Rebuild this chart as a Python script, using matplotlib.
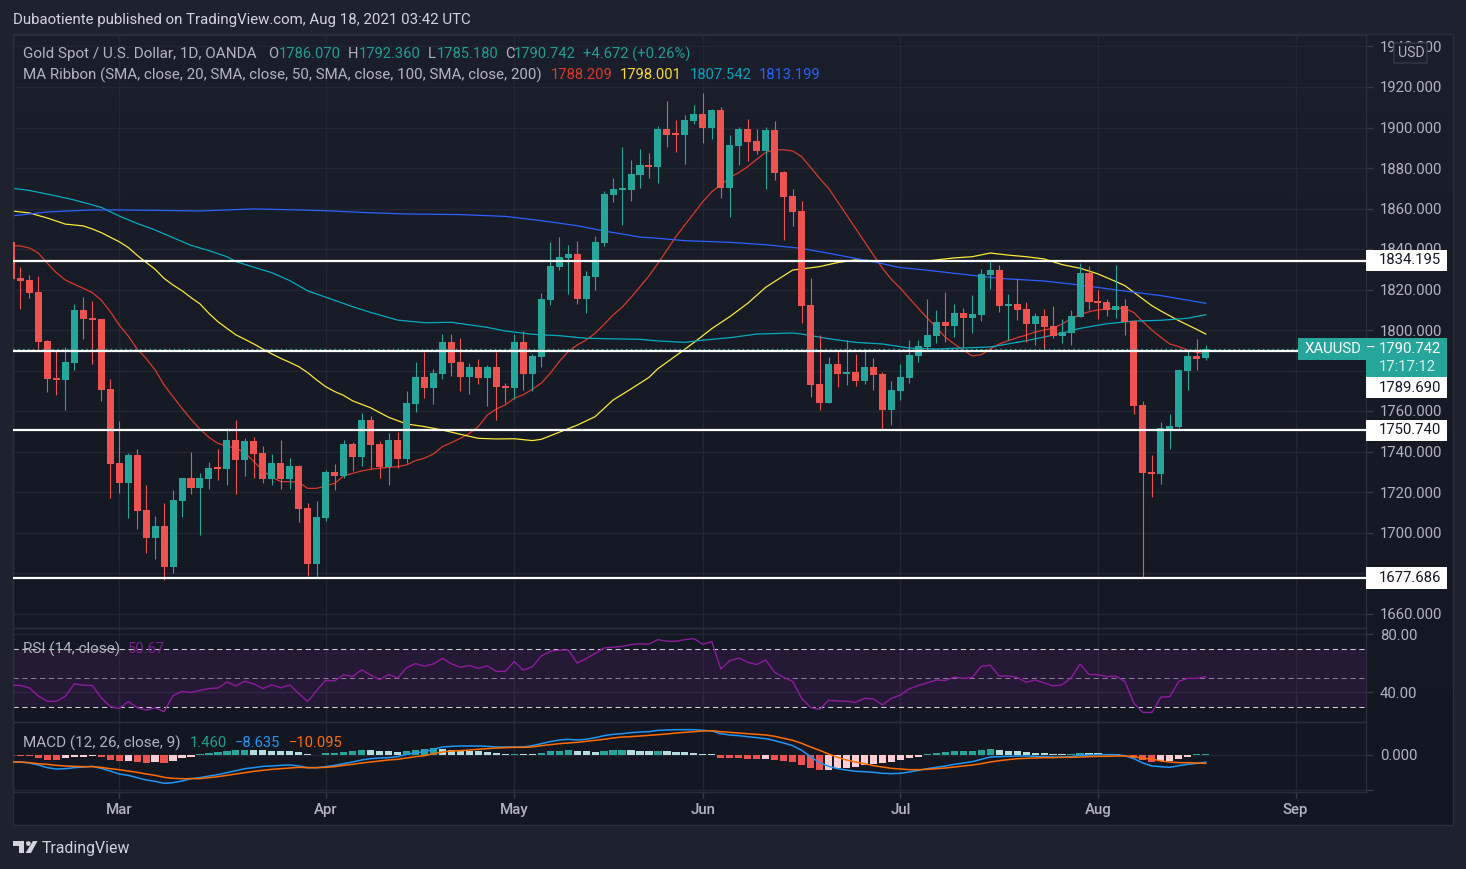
import numpy as np
import matplotlib
matplotlib.use("Agg")
import matplotlib.pyplot as plt
from matplotlib.patches import Rectangle, Polygon, FancyBboxPatch
from matplotlib.colors import LinearSegmentedColormap

W, H = 1466, 869
FONT = "Roboto"
plt.rcParams["font.family"] = [FONT, "DejaVu Sans"]

# ---------- data ----------
opens = [
 1843.5,1825.7,1824.7,1818.8,1794.6,1776.3,1775.3,1783.7,1809.9,1805.9,
 1805.5,1770.9,1734.3,1724.5,1738.3,1711.1,1697.3,1703.2,1683.0,1715.6,
 1726.9,1722.0,1726.4,1731.9,1731.4,1745.7,1735.8,1745.2,1739.3,1726.4,
 1734.3,1726.4,1732.9,1712.1,1684.5,1707.2,1729.9,1728.0,1743.7,1737.3,
 1755.6,1743.7,1732.4,1745.7,1736.3,1763.5,1776.8,1771.4,1778.3,1794.1,
 1784.2,1776.8,1781.7,1776.3,1781.7,1772.3,1771.4,1794.1,1778.3,1786.7,
 1814.8,1831.1,1835.6,1837.5,1815.3,1826.2,1843.0,1866.7,1869.1,1869.1,
 1876.5,1881.5,1880.5,1899.3,1896.8,1896.3,1903.2,1906.7,1899.8,1908.6,
 1870.1,1890.9,1899.3,1893.3,1888.4,1898.8,1878.0,1866.2,1858.8,1812.3,
 1773.3,1763.9,1783.2,1778.3,1779.3,1774.8,1781.7,1778.3,1760.5,1769.9,
 1776.3,1787.2,1791.6,1797.0,1804.0,1802.0,1808.4,1805.9,1807.4,1827.0,
 1829.6,1811.9,1812.8,1810.4,1803.0,1806.9,1802.0,1797.0,1798.5,1806.4,
 1828.1,1814.3,1813.8,1809.9,1811.9,1804.4,1763.0,1729.9,1728.9,1751.1,
 1752.1,1779.8,1787.2,1786.07]
highs = [
 1843.5,1831.1,1827.2,1826.7,1795.1,1789.6,1791.6,1812.9,1816.3,1814.3,
 1805.5,1775.8,1755.0,1739.3,1741.3,1723.5,1708.2,1714.6,1721.0,1726.9,
 1739.8,1729.4,1734.8,1741.3,1751.6,1755.6,1746.7,1747.2,1742.7,1738.8,
 1745.7,1736.8,1733.4,1714.6,1715.6,1730.9,1733.9,1745.7,1744.7,1759.0,
 1757.6,1745.2,1749.2,1749.7,1769.9,1784.2,1789.1,1780.8,1798.0,1798.0,
 1796.0,1783.7,1785.7,1782.7,1789.1,1773.8,1798.0,1799.5,1788.1,1818.3,
 1843.5,1846.0,1842.0,1844.0,1829.1,1846.4,1868.6,1875.1,1890.4,1884.0,
 1889.4,1887.4,1900.7,1913.1,1903.7,1906.2,1911.1,1917.0,1909.1,1910.1,
 1896.3,1900.2,1904.2,1899.3,1900.2,1903.2,1878.5,1869.6,1863.7,1825.7,
 1797.5,1786.7,1789.1,1795.1,1788.1,1790.6,1786.2,1779.3,1774.8,1783.2,
 1795.1,1795.1,1815.3,1809.9,1818.8,1812.8,1810.9,1817.3,1830.1,1834.1,
 1832.1,1817.8,1825.2,1813.8,1808.4,1810.4,1811.9,1805.4,1809.9,1833.1,
 1831.6,1819.8,1815.3,1832.1,1815.3,1804.4,1764.9,1738.3,1754.6,1758.5,
 1780.3,1789.6,1795.6,1792.36]
lows = [
 1825.2,1810.4,1815.8,1790.1,1769.4,1767.9,1760.5,1780.3,1795.6,1783.2,
 1765.0,1717.1,1719.5,1707.2,1701.8,1689.9,1686.9,1676.6,1680.0,1707.7,
 1719.0,1698.8,1721.5,1725.9,1723.5,1719.0,1727.9,1726.9,1724.5,1723.5,
 1721.5,1721.5,1705.2,1678.5,1678.0,1705.7,1721.0,1727.0,1730.4,1732.9,
 1731.4,1727.0,1723.5,1731.9,1734.4,1759.5,1766.4,1763.5,1775.8,1777.3,
 1769.9,1768.4,1773.3,1762.5,1755.6,1763.9,1765.9,1770.4,1769.9,1781.7,
 1812.3,1829.6,1817.8,1812.8,1808.4,1819.8,1841.5,1863.2,1851.9,1863.7,
 1870.1,1875.1,1872.6,1890.4,1887.9,1882.0,1901.7,1892.3,1894.3,1865.2,
 1855.8,1881.5,1883.5,1886.9,1869.6,1874.1,1844.4,1851.4,1803.5,1766.9,
 1760.5,1763.9,1771.9,1772.9,1772.3,1773.3,1770.4,1751.1,1753.1,1765.4,
 1773.8,1784.2,1790.6,1793.6,1794.1,1796.5,1791.1,1798.5,1804.4,1820.3,
 1808.9,1795.1,1805.0,1794.1,1792.6,1790.1,1796.0,1793.6,1792.6,1806.4,
 1809.9,1805.4,1806.9,1805.9,1797.5,1758.5,1678.0,1717.5,1724.0,1741.2,
 1751.6,1770.4,1780.3,1785.18]
closes = [
 1825.2,1824.2,1818.3,1794.1,1775.8,1775.3,1784.2,1809.9,1805.5,1805.0,
 1770.4,1733.9,1724.5,1738.3,1710.6,1697.3,1703.2,1683.0,1716.1,1726.9,
 1722.0,1726.9,1731.9,1731.4,1745.7,1735.8,1745.2,1738.8,1726.4,1734.3,
 1726.4,1732.9,1711.6,1684.5,1707.7,1729.9,1728.0,1743.7,1737.3,1755.6,
 1743.2,1732.4,1745.7,1736.3,1764.0,1776.8,1771.4,1778.8,1794.1,1783.7,
 1776.8,1781.7,1776.3,1781.7,1771.9,1771.4,1794.1,1778.3,1787.2,1815.3,
 1831.6,1836.1,1837.5,1815.3,1826.7,1843.5,1867.2,1869.6,1869.6,1877.0,
 1881.5,1880.5,1899.3,1896.3,1896.3,1903.7,1906.7,1899.8,1908.6,1870.1,
 1891.4,1899.3,1892.8,1888.4,1898.8,1877.5,1865.7,1858.3,1811.9,1772.9,
 1763.9,1783.2,1778.3,1779.3,1774.8,1781.7,1777.8,1760.5,1770.4,1776.8,
 1787.7,1792.1,1797.5,1804.0,1802.0,1808.4,1805.9,1807.9,1827.7,1829.6,
 1811.9,1812.8,1809.9,1803.0,1806.9,1801.5,1797.0,1799.0,1806.9,1828.1,
 1813.8,1813.3,1809.9,1811.9,1804.0,1762.5,1729.4,1728.9,1751.6,1752.6,
 1780.3,1787.2,1785.7,1790.742]

ma20 = [
 1841.5,1841.5,1840.5,1838.0,1833.0,1828.3,1824.7,1822.6,1820.6,1818.5,
 1814.8,1809.1,1802.5,1797.1,1790.6,1786.0,1780.3,1772.9,1767.1,1761.3,
 1755.9,1751.0,1747.0,1744.0,1742.7,1741.6,1739.4,1735.0,1730.6,1727.3,
 1725.1,1725.1,1724.8,1721.8,1721.8,1723.0,1724.3,1727.9,1729.2,1730.4,
 1731.2,1731.7,1732.2,1732.5,1733.4,1735.5,1736.7,1738.8,1742.4,1744.4,
 1746.5,1749.0,1752.3,1758.0,1761.0,1763.0,1766.3,1768.0,1770.7,1773.7,
 1778.6,1784.4,1789.3,1792.6,1795.0,1798.4,1802.8,1807.4,1811.2,1816.1,
 1821.4,1826.7,1832.9,1839.5,1846.1,1851.9,1857.6,1863.4,1868.3,1871.6,
 1875.4,1877.7,1880.7,1884.3,1887.7,1888.9,1889.0,1888.4,1885.6,1880.3,
 1874.9,1870.0,1863.4,1856.8,1850.2,1843.6,1837.0,1830.5,1825.0,1820.6,
 1815.6,1810.7,1805.8,1801.3,1796.4,1793.1,1790.1,1787.2,1787.8,1790.6,
 1793.1,1794.7,1796.2,1797.5,1799.0,1800.0,1800.8,1803.0,1805.4,1807.7,
 1809.0,1809.9,1810.4,1810.7,1810.7,1808.6,1804.1,1800.0,1796.4,1793.1,
 1791.8,1790.1,1789.0,1788.209]

ma50_bar = [0,2,4,6,8,9,10,12,13,14,15,16,17,18,19,20,21,22,23,24,25,26,27,28,29,30,31,32,33,34,35,36,37,38,40,42,44,46,48,50,52,54,56,58,59,61,63,65,67,69,71,72,74,76,78,80,82,84,86,87,90,92,94,98,100,102,105,107,109,111,113,115,117,119,121,123,124,125,127,128,130,132,133]
ma50 = [1858.8,1857.8,1855.3,1852.3,1851.4,1849.9,1848.1,1843.6,1840.8,1836.9,1833.4,1830.0,1825.5,1822.2,1819.4,1816.0,1812.9,1808.2,1804.1,1800.8,1797.6,1795.4,1793.1,1790.6,1788.2,1786.0,1784.0,1781.9,1778.9,1775.3,1772.0,1769.6,1767.7,1765.0,1761.6,1756.9,1753.6,1752.3,1750.6,1748.5,1746.5,1746.2,1746.3,1745.4,1746.0,1749.5,1753.0,1757.2,1765.4,1770.9,1776.6,1780.9,1787.3,1793.8,1800.7,1806.6,1813.2,1821.1,1826.8,1829.6,1831.3,1833.3,1834.6,1833.8,1833.8,1834.1,1835.6,1836.2,1838.0,1837.0,1836.2,1835.1,1832.3,1830.5,1827.7,1823.9,1821.9,1818.6,1812.0,1809.4,1804.6,1800.3,1798.001]

ma100_bar = [0,2,5,7,10,12,14,16,18,20,22,24,25,27,29,31,33,35,38,40,43,46,49,53,55,58,61,64,70,72,75,77,80,83,87,88,91,94,97,100,103,105,109,113,117,119,122,125,128,131,133]
ma100 = [1870.1,1868.9,1866.2,1864.2,1860.6,1856.3,1852.6,1849.4,1845.6,1841.8,1839.2,1836.2,1833.8,1831.0,1828.3,1824.4,1819.3,1816.2,1811.5,1808.7,1804.9,1803.6,1803.8,1801.3,1799.5,1797.9,1797.2,1795.9,1795.4,1794.6,1793.9,1795.0,1796.2,1798.0,1798.5,1798.0,1795.7,1793.9,1793.1,1791.1,1790.6,1791.0,1791.6,1794.7,1798.4,1800.8,1803.1,1804.4,1804.8,1805.8,1807.542]

ma200_bar = [0,4,9,12,21,27,32,35,40,44,50,55,59,63,66,70,72,75,80,84,88,91,96,99,101,105,110,115,119,123,128,133]
ma200 = [1856.3,1858.3,1859.3,1859.3,1858.8,1859.8,1859.3,1858.9,1857.9,1857.3,1857.0,1856.1,1854.0,1851.5,1848.9,1845.9,1845.3,1844.1,1843.3,1842.1,1840.3,1837.9,1833.7,1830.8,1830.0,1828.0,1825.5,1824.2,1822.2,1819.8,1817.0,1813.199]

rsi = [
 44.7,44.5,42.9,37.2,33.6,33.6,37.0,45.6,44.7,44.5,
 36.1,30.0,28.6,33.4,29.3,27.5,29.1,26.6,37.5,40.4,
 39.7,41.1,42.4,42.7,46.9,44.2,47.4,45.6,42.4,44.9,
 42.9,44.9,39.0,33.4,41.1,48.1,47.6,51.9,50.6,55.3,
 51.7,48.5,52.1,49.7,56.7,59.6,57.8,59.4,63.2,59.4,
 57.1,58.2,56.4,58.0,54.2,54.2,61.0,55.1,57.3,64.8,
 68.0,68.9,69.1,60.0,63.0,66.6,70.4,70.9,71.4,72.7,
 73.2,73.0,76.1,75.0,75.0,76.1,76.8,73.0,74.7,55.8,
 61.6,63.4,60.5,58.9,62.1,53.5,50.1,47.4,35.6,29.3,
 28.0,34.3,33.8,33.6,32.9,35.6,35.2,31.1,35.6,37.9,
 42.2,44.5,46.3,48.3,47.9,50.3,49.4,50.1,57.6,58.5,
 51.0,51.0,50.1,46.7,48.3,46.3,44.2,44.9,49.7,59.2,
 52.1,51.9,50.6,51.0,47.2,32.3,25.9,25.9,36.5,36.8,
 47.4,49.4,49.4,50.67]

macd_line = [
 -8.4,-8.4,-9.6,-12,-15.2,-16.8,-16.4,-15.2,-14.4,-13.6,
 -16,-19.2,-22.8,-24.4,-27.2,-30,-31.6,-34,-33.2,-31.2,
 -28.4,-27.2,-25.2,-23.6,-21.2,-18.8,-16.4,-15.2,-13.6,-13.2,
 -12.4,-12,-13.2,-15.2,-15.2,-14,-12.4,-10.4,-8.4,-6,
 -4.4,-3.6,-3.2,-2,0.8,2.8,4,6.8,9.6,10.4,
 10.8,10.8,10.8,10.4,9.6,9.6,9.6,9.6,11.2,13.6,
 16,18,18.8,18,18.8,20.8,23.2,24.8,25.6,26.8,
 27.6,28,29.6,30,30.4,30.4,30.4,29.6,28.8,25.6,
 24,23.2,22,20.8,19.6,17.2,14.4,11.2,5.6,-2,
 -9.2,-13.6,-16.4,-18,-19.6,-20,-20.8,-22,-22.4,-22,
 -20.4,-18.4,-16.4,-14.8,-13.2,-11.2,-9.6,-8,-5.2,-2.4,
 -2,-1.6,-1.2,-1.2,-1.6,-2,-2.4,-2.4,-2,-0.4,
 0,0.4,0.4,0.4,-0.8,-4.4,-9.6,-13.2,-14,-14.8,
 -12.8,-11.2,-10,-8.635]
macd_signal = [
 -8.4,-8.4,-9.2,-10.4,-11.2,-12.4,-13.2,-13.6,-14,-14,
 -14.8,-16.4,-17.6,-19.2,-20.8,-22.8,-24.4,-26.8,-28,-28.4,
 -28.4,-28.4,-27.2,-26,-24.4,-22.8,-21.2,-19.6,-18.4,-17.2,
 -16.4,-15.6,-14.8,-15.2,-15.2,-14.8,-14,-12.4,-11.2,-9.6,
 -8.4,-7.2,-6,-5.2,-3.6,-2,-0.8,1.6,3.6,4.8,
 5.2,6,6.8,7.6,8.4,8.8,9.2,9.2,9.6,11.2,
 12.4,13.6,14.4,15.2,16.4,17.6,18.8,20.4,21.6,22,
 22.8,23.6,24.4,25.2,26.4,27.2,28,28.8,29.2,28,
 27.2,26.4,25.6,24.8,24,22.4,20,17.6,14,9.6,
 5.6,1.2,-2.8,-6,-8.4,-10.4,-12.8,-14.4,-16,-16.8,
 -17.6,-17.6,-17.2,-16.4,-15.6,-14.4,-13.2,-12,-10.4,-8.4,
 -6.8,-5.6,-4.4,-4,-3.6,-3.2,-3.2,-2.8,-2.8,-2.4,
 -2,-1.6,-1.6,-1.2,-1.2,-2,-4,-4.8,-7.2,-8.4,
 -9.2,-9.2,-9.6,-10.095]
macd_hist = [
 -1,-1,-1,-3.6,-5.6,-6,-3.6,-2.4,-2,-1.2,
 -2.8,-6,-6.8,-6.6,-8.4,-9.2,-8.4,-9.2,-6.8,-3.6,
 -2.4,1.2,2,3.6,5.2,6,6.2,6,5.6,4.8,
 4.7,4.6,3.6,1.2,0.3,2.4,2.5,3.6,4.8,6,
 5.8,4.8,4.4,3.6,4.8,6,7.2,8,7.2,6.4,
 5.6,4.8,4.4,3.6,2.4,1,1.3,1.1,1,2.4,
 4.8,4.9,6,4.6,4.4,4.2,4.8,5.6,5.8,5.7,
 4.8,4.6,4.8,4.6,3.6,3.5,2.4,1.2,1.1,-3.6,
 -3.7,-3.8,-4.8,-4.9,-4.8,-6,-7.2,-8.4,-12,-15.6,
 -18,-17.9,-15.6,-15.5,-14.4,-12,-10.8,-9.6,-8.4,-6,
 -3.6,-2.4,1.2,2.4,3.6,4.8,4.9,5,6,7.2,
 6,4.8,4.7,3.6,2.4,2.3,1.2,1.1,1.3,2.4,
 2.3,2.2,1.2,1.1,-0.2,-3.6,-6,-8.4,-7.2,-7.1,
 -4.8,-2.4,0.8,1.46]

month_pos = [12, 35, 56, 77, 99, 121, 143]
month_labels = ["Mar", "Apr", "May", "Jun", "Jul", "Aug", "Sep"]
price_ticks = list(range(1660, 1941, 20))
level_lines = [1834.195, 1789.690, 1750.740, 1677.686]
last_price = 1790.742

# ---------- colours ----------
UP, DOWN = "#26a69a", "#ef5350"
GRID, EDGE = "#232733", "#2a2e39"
TXT = "#b2b5be"

# ---------- layout helpers ----------
def rect(l, t, r, b):
    return [l / W, 1 - b / H, (r - l) / W, (b - t) / H]

fig = plt.figure(figsize=(W / 100, H / 100), dpi=100, facecolor="#1e222d")

def ftext(x, y, s, color=TXT, size=10.4, ha="left", **kw):
    return fig.text(x / W, 1 - y / H, s, color=color, fontsize=size, ha=ha, va="center",
                    zorder=12, **kw)

def fbox(l, t, r, b, color, z=10, **kw):
    p = Rectangle((l / W, 1 - b / H), (r - l) / W, (b - t) / H, transform=fig.transFigure,
                  facecolor=color, zorder=z, linewidth=0, **kw)
    fig.add_artist(p)
    return p

# gradient background
bg = fig.add_axes(rect(13, 34, 1453, 825), zorder=-2)
cmap = LinearSegmentedColormap.from_list("tv", ["#1b1f2b", "#161a25", "#131722"])
bg.imshow(np.linspace(0, 1, 256)[:, None], cmap=cmap, aspect="auto")
bg.set_xticks([]); bg.set_yticks([])
for s in bg.spines.values():
    s.set_color(EDGE); s.set_linewidth(1)

PX = 8.98
X0 = 11.4
xlim = ((13 - X0) / PX, (1366 - X0) / PX)

ax = fig.add_axes(rect(13, 35, 1366, 628))
ar = fig.add_axes(rect(13, 628, 1366, 722))
am = fig.add_axes(rect(13, 722, 1366, 792))

for a in (ax, ar, am):
    a.patch.set_alpha(0)
    a.set_xlim(xlim)
    a.set_axisbelow(True)
    a.set_xticks(month_pos)
    a.grid(True, color=GRID, lw=1)
    a.yaxis.tick_right()
    a.tick_params(axis="y", colors=TXT, length=5, width=1, color="#363a45", pad=5,
                  labelsize=10.7, labelcolor=TXT)
    a.tick_params(axis="x", length=0, labelbottom=False)
    for s in a.spines.values():
        s.set_color(EDGE); s.set_linewidth(1)

# ---------- main pane ----------
ax.set_ylim(1920 - (628 - 87) / 2.025, 1920 + (87 - 35) / 2.025)
ax.set_yticks(price_ticks)
ax.set_yticklabels([f"{p:.3f}" for p in price_ticks])

xs = np.arange(len(closes))
o, h, l, c = map(np.array, (opens, highs, lows, closes))
cols = [UP if ci >= oi else DOWN for oi, ci in zip(o, c)]

ax.plot(xs, ma20, color="#d9392c", lw=0.9, zorder=2)
ax.plot(ma50_bar, ma50, color="#fbe83a", lw=0.9, zorder=2)
ax.plot(ma100_bar, ma100, color="#00acc1", lw=0.9, zorder=2)
ax.plot(ma200_bar, ma200, color="#2962ff", lw=0.9, zorder=2)

ax.vlines(xs, l, h, colors=cols, lw=0.8, zorder=3)
ax.bar(xs, np.maximum(np.abs(c - o), 1.0), bottom=np.minimum(o, c), width=0.78, color=cols,
       linewidth=0, zorder=3.1)

ax.axhline(last_price, color=UP, lw=1, ls=(0, (1, 2.5)), zorder=3.5)
for lv in level_lines:
    ax.axhline(lv, color="white", lw=1.6, zorder=4)

# ---------- RSI pane ----------
ar.set_ylim(80 - (722 - 634) / 1.45, 80 + (634 - 628) / 1.45)
ar.set_yticks([40, 80])
ar.set_yticklabels(["40.00", "80.00"])
ar.axhspan(30, 70, color="#9c27b0", alpha=0.13, lw=0, zorder=1)
for v, col in ((70, "#d1d4dc"), (30, "#d1d4dc"), (50, "#8a7d96")):
    ar.axhline(v, color=col, lw=0.75, ls=(0, (5, 3.5)), zorder=1.5)
ar.plot(np.arange(len(rsi)), rsi, color="#8e1c9e", lw=1.0, zorder=3)

# ---------- MACD pane ----------
am.set_ylim(-44.4, 39.6)
am.set_yticks([-42, 0])
am.set_yticklabels(["", "0.000"])
hist = np.array(macd_hist)
hcols = []
for i, v in enumerate(hist):
    prev = hist[i - 1] if i else v
    if v >= 0:
        hcols.append(UP if v >= prev else "#b2dfdb")
    else:
        hcols.append(DOWN if v <= prev else "#ffcdd2")
am.bar(np.arange(len(hist)), hist, width=0.8, color=hcols, linewidth=0, zorder=2)
am.plot(np.arange(len(macd_line)), macd_line, color="#2196f3", lw=1.1, zorder=3)
am.plot(np.arange(len(macd_signal)), macd_signal, color="#ff6d00", lw=1.1, zorder=3.1)

am.tick_params(axis="x", length=4, width=1, color="#363a45", labelbottom=True, labelsize=10.8,
               labelcolor=TXT, pad=4)
am.set_xticklabels(month_labels, fontweight="medium")

# ---------- header text ----------
LBL = 11.0
NUM = 10.6
ftext(13, 20, "Dubaotiente published on TradingView.com, Aug 18, 2021 03:42 UTC", color="#d1d4dc", size=10.85)
ftext(23, 54, "Gold Spot / U.S. Dollar, 1D, OANDA", size=LBL)
for x, s in ((268, "O"), (348, "H"), (428, "L"), (505, "C")):
    ftext(x, 54, s, size=NUM)
TEAL2 = "#1f9e92"
for x, s in ((279, "1786.070"), (359, "1792.360"), (437, "1785.180"), (514, "1790.742"), (583, "+4.672 (+0.26%)")):
    ftext(x, 54, s, color=TEAL2, size=NUM)
ftext(23, 75, "MA Ribbon (SMA, close, 20, SMA, close, 50, SMA, close, 100, SMA, close, 200)", size=10.9)
for x, s, col in ((551, "1788.209", "#e0392c"), (620, "1798.001", "#fdd835"),
                  (690, "1807.542", "#00a5bd"), (759, "1813.199", "#2962ff")):
    ftext(x, 75, s, color=col, size=NUM)
ftext(23, 649, "RSI (14, close)", size=LBL)
ftext(128, 649, "50.67", color="#7b1f8c", size=NUM)
ftext(23, 743, "MACD (12, 26, close, 9)", size=LBL)
ftext(190, 743, "1.460", color=TEAL2, size=NUM)
ftext(235, 743, "\u22128.635", color="#2196f3", size=NUM)
ftext(289, 743, "\u221210.095", color="#ff6d00", size=NUM)

# ---------- price tags ----------
for top, bot, lv in ((250, 271, level_lines[0]), (377, 398, level_lines[1]),
                     (420, 441, level_lines[2]), (567, 589, level_lines[3])):
    fbox(1366, top, 1447, bot, "white")
    ftext(1379, (top + bot) / 2, f"{lv:.3f}", color="#131722", size=10.7)
fbox(1298, 338, 1447, 360, UP)
fbox(1366, 360, 1447, 377, UP)
ftext(1305, 349, "XAUUSD", color="white", size=10.7)
ftext(1366, 349, "\u2013", color="white", size=10.7)
ftext(1379, 349, f"{last_price:.3f}", color="white", size=10.7)
ftext(1379, 367, "17:17:12", color="#d6f0ed", size=10.7)

# USD tag
usd = FancyBboxPatch((1394 / W, 1 - 63 / H), 33 / W, 20 / H, transform=fig.transFigure,
                     boxstyle="round,pad=0", facecolor="#1b1f2b", edgecolor="#363a45", lw=1, zorder=10)
fig.add_artist(usd)
ftext(1411, 53, "USD", size=10.2, ha="center")

# ---------- footer logo ----------
LOGO = "#d1d4dc"
def fpoly(pts):
    fig.add_artist(Polygon([(x / W, 1 - y / H) for x, y in pts], closed=True, transform=fig.transFigure,
                           facecolor=LOGO, edgecolor="none", zorder=10))
fpoly([(13, 841), (24, 841), (24, 853), (19, 853), (19, 846), (13, 846)])
fpoly([(33, 841), (37.5, 841), (31, 853), (25.5, 853)])
fpoly([(26, 842), (29, 841), (31, 843), (29.5, 846), (26.5, 845.5)])
ftext(42, 848, "TradingView", color=LOGO, size=11.4)

fig.savefig("out.png", dpi=100, facecolor=fig.get_facecolor())
